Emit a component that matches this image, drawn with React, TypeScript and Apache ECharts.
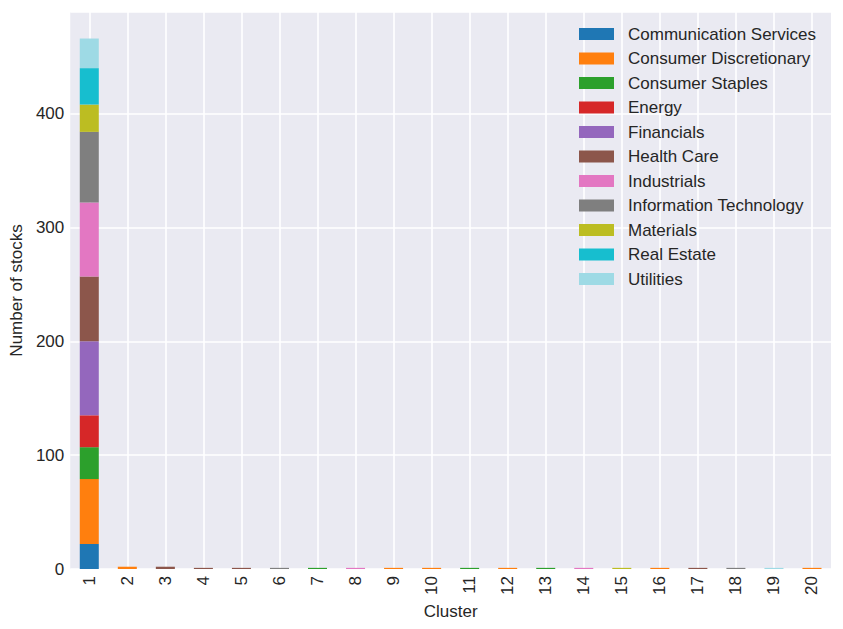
import React, { useEffect, useRef } from "react";
import * as echarts from "echarts";

const clusters = ["1","2","3","4","5","6","7","8","9","10","11","12","13","14","15","16","17","18","19","20"];
const sectors = [
  "Communication Services",
  "Consumer Discretionary",
  "Consumer Staples",
  "Energy",
  "Financials",
  "Health Care",
  "Industrials",
  "Information Technology",
  "Materials",
  "Real Estate",
  "Utilities",
];
const colors = ["#1f77b4","#ff7f0e","#2ca02c","#d62728","#9467bd","#8c564b","#e377c2","#7f7f7f","#bcbd22","#17becf","#9edae5"];

// values per sector, indexed by cluster 1..20
const communicationServices = [22,0,0,0,0,0,0,0,0,0,0,0,0,0,0,0,0,0,0,0];
const consumerDiscretionary = [57,2,0,0,0,0,0,0,1,1,0,1,0,0,0,1,0,0,0,1];
const consumerStaples =       [28,0,0,0,0,0,1,0,0,0,1,0,1,0,0,0,0,0,0,0];
const energy =                [28,0,0,0,0,0,0,0,0,0,0,0,0,0,0,0,0,0,0,0];
const financials =            [65,0,0,0,0,0,0,0,0,0,0,0,0,0,0,0,0,0,0,0];
const healthCare =            [57,0,2,1,1,0,0,0,0,0,0,0,0,0,0,0,1,0,0,0];
const industrials =           [65,0,0,0,0,0,0,1,0,0,0,0,0,1,0,0,0,0,0,0];
const informationTechnology = [62,0,0,0,0,1,0,0,0,0,0,0,0,0,0,0,0,1,0,0];
const materials =             [24,0,0,0,0,0,0,0,0,0,0,0,0,0,1,0,0,0,0,0];
const realEstate =            [32,0,0,0,0,0,0,0,0,0,0,0,0,0,0,0,0,0,0,0];
const utilities =             [26,0,0,0,0,0,0,0,0,0,0,0,0,0,0,0,0,0,1,0];

const seriesValues = [
  communicationServices, consumerDiscretionary, consumerStaples, energy, financials,
  healthCare, industrials, informationTechnology, materials, realEstate, utilities,
];

const yTicks = [0, 100, 200, 300, 400];
const yMax = 489.3;

const FONT = "Liberation Sans, Arial, sans-serif";
const TEXT = "#262626";

export default function App() {
  const ref = useRef<HTMLDivElement>(null);
  useEffect(() => {
    if (!ref.current) return;
    const chart = echarts.init(ref.current, undefined, { renderer: "svg" });
    const gridAxisData = Array.from({ length: clusters.length * 2 + 1 }, (_, i) => String(i));
    chart.setOption({
      animation: false,
      backgroundColor: "#ffffff",
      textStyle: { fontFamily: FONT, color: TEXT },
      grid: {
        left: 69, right: 12, top: 12, bottom: 60,
        show: true, backgroundColor: "#EAEAF2", borderWidth: 0,
      },
      legend: {
        orient: "vertical",
        left: 579,
        top: 25.5,
        padding: 0,
        itemWidth: 35,
        itemHeight: 12,
        itemGap: 7.5,
        icon: "rect",
        data: sectors,
        textStyle: {
          fontFamily: FONT, fontSize: 17, color: TEXT, lineHeight: 17,
          padding: [0, 0, 0, 9],
        },
      },
      xAxis: [
        {
          type: "category",
          data: clusters,
          name: "Cluster",
          nameLocation: "middle",
          nameGap: 27,
          nameTextStyle: { fontFamily: FONT, fontSize: 17, color: TEXT },
          axisLine: { show: false },
          axisTick: { show: false },
          splitLine: { show: false },
          axisLabel: { rotate: 90, fontFamily: FONT, fontSize: 17, color: TEXT, margin: 7 },
        },
        {
          type: "category",
          data: gridAxisData,
          boundaryGap: false,
          position: "bottom",
          show: true,
          axisLine: { show: false },
          axisTick: { show: false },
          axisLabel: { show: false },
          splitLine: {
            show: true,
            interval: (index: number) => index % 2 === 1,
            lineStyle: { color: "#ffffff", width: 1.6 },
          },
        },
      ],
      yAxis: {
        type: "value",
        min: 0,
        max: yMax,
        interval: 100,
        name: "Number of stocks",
        nameLocation: "middle",
        nameGap: 40,
        nameTextStyle: { fontFamily: FONT, fontSize: 17, color: TEXT },
        axisLine: { show: false },
        axisTick: { show: false },
        axisLabel: {
          fontFamily: FONT, fontSize: 17, color: TEXT, margin: 6,
          showMaxLabel: false,
          formatter: (v: number) => (yTicks.includes(v) ? String(v) : ""),
        },
        splitLine: { show: true, lineStyle: { color: "#ffffff", width: 1.6 } },
      },
      series: sectors.map((name, i) => ({
        name,
        type: "bar",
        stack: "total",
        xAxisIndex: 0,
        barWidth: "50%",
        itemStyle: { color: colors[i] },
        data: seriesValues[i],
      })),
    });
    return () => chart.dispose();
  }, []);
  return (
    <div
      ref={ref}
      style={{ position: "fixed", left: 0, top: 0, width: 843, height: 629 }}
    />
  );
}
